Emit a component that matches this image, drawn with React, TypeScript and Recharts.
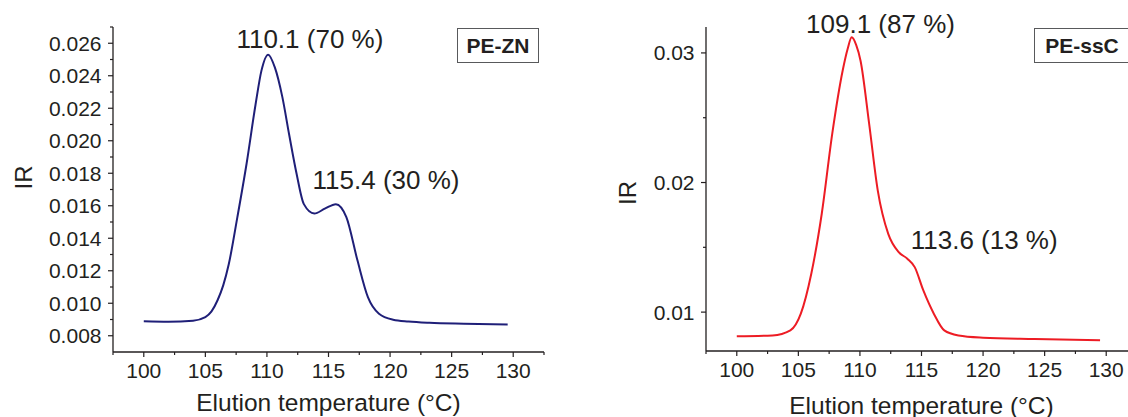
import React from 'react';
import { Label, Line, LineChart, ReferenceDot, XAxis, YAxis } from 'recharts';

const INK = '#231f20';
const FONT = '"Liberation Sans", Arial, sans-serif';

// PE-ZN trace (elution temperature, IR signal)
const znTemp = [100, 102, 104, 105, 105.5, 106, 106.45, 106.9, 107.6, 108.35, 109.07, 109.55, 110.1, 110.65, 111.25, 111.8, 112.4, 113.0, 113.85, 114.7, 115.6, 116.45, 117.35, 118.2, 119.1, 120.25, 121.5, 123.2, 126, 129.55];
const znIR = [0.00889, 0.00886, 0.00893, 0.00915, 0.0095, 0.0102, 0.0111, 0.0124, 0.0153, 0.0186, 0.0222, 0.0243, 0.0253, 0.0245, 0.0227, 0.0204, 0.018, 0.0161, 0.01552, 0.01582, 0.0161, 0.0153, 0.01264, 0.01038, 0.00936, 0.00899, 0.00888, 0.0088, 0.00874, 0.00869];

// PE-ssC trace
const sscTemp = [100, 102.9, 104.35, 105.2, 106.05, 106.9, 107.75, 108.6, 109.0, 109.33, 109.7, 110.05, 110.75, 111.45, 112.3, 113.15, 113.85, 114.45, 115.15, 116.0, 116.85, 118.0, 120.0, 124.2, 129.5];
const sscIR = [0.00813, 0.0082, 0.00859, 0.00988, 0.01296, 0.01759, 0.02375, 0.02864, 0.0303, 0.0312, 0.0306, 0.0294, 0.02453, 0.01938, 0.01604, 0.01463, 0.01412, 0.01347, 0.01167, 0.00988, 0.00859, 0.0082, 0.00803, 0.00792, 0.00782];

const xTicks = [97.5, 100, 102.5, 105, 107.5, 110, 112.5, 115, 117.5, 120, 122.5, 125, 127.5, 130, 132.5];
const znYTicks = [0.008, 0.009, 0.01, 0.011, 0.012, 0.013, 0.014, 0.015, 0.016, 0.017, 0.018, 0.019, 0.02, 0.021, 0.022, 0.023, 0.024, 0.025, 0.026, 0.027];
const sscYTicks = [0.01, 0.015, 0.02, 0.025, 0.03];

const TICK_SIZE = 5;
const TICK_MARGIN = 6;

const makeYTick = (isMajor: (v: number) => boolean, fmt: (v: number) => string) =>
  function YTick(props: any) {
    const { x, y, payload } = props;
    const ax = x + TICK_SIZE + TICK_MARGIN;
    const major = isMajor(payload.value);
    return (
      <g>
        <line x1={ax - (major ? 5 : 3)} x2={ax} y1={y} y2={y} stroke={INK} strokeWidth={1.2} />
        {major && (
          <text x={ax - 11.5} y={y} dy="0.355em" textAnchor="end" fontSize={21} fill={INK}>
            {fmt(payload.value)}
          </text>
        )}
      </g>
    );
  };

function XTick(props: any) {
  const { x, y, payload } = props;
  const ay = y - TICK_SIZE - TICK_MARGIN;
  const major = payload.value % 5 === 0;
  return (
    <g>
      <line x1={x} x2={x} y1={ay} y2={ay + (major ? 5 : 3)} stroke={INK} strokeWidth={1.2} />
      {major && (
        <text x={x} y={ay + 11} dy="0.71em" textAnchor="middle" fontSize={21} fill={INK}>
          {payload.value}
        </text>
      )}
    </g>
  );
}

const znYTick = makeYTick((v) => Math.round(v * 1000) % 2 === 0, (v) => v.toFixed(3));
const sscYTick = makeYTick((v) => Math.round(v * 1000) % 10 === 0, (v) => v.toFixed(2));

const irLabel = (cx: number, dy: number) =>
  function IRLabel(props: any) {
    const vb = props.viewBox || {};
    const cy = vb.y + vb.height / 2 + dy;
    return (
      <text x={cx} y={cy} dy="0.355em" textAnchor="middle" fontSize={24} fill={INK} transform={`rotate(-90, ${cx}, ${cy})`}>
        IR
      </text>
    );
  };

const boxStyle: React.CSSProperties = {
  position: 'absolute',
  top: 28,
  height: 35,
  boxSizing: 'border-box',
  border: '1.2px solid #58595b',
  background: '#fff',
  fontWeight: 'bold',
  fontSize: 21,
  color: INK,
  display: 'flex',
  alignItems: 'center',
  justifyContent: 'center',
  fontFamily: FONT,
};

const annot = { position: 'center' as const, fontSize: 26, fill: INK };

export default function App() {
  const znData = znTemp.map((t, i) => ({ t, ir: znIR[i] }));
  const sscData = sscTemp.map((t, i) => ({ t, ir: sscIR[i] }));

  return (
    <div
      style={{
        position: 'absolute',
        left: 0,
        top: 0,
        width: 1128,
        height: 417,
        overflow: 'hidden',
        background: '#fff',
        fontFamily: FONT,
      }}
    >
      <div style={{ position: 'absolute', left: 0, top: 0 }}>
        <LineChart width={560} height={417} data={znData} margin={{ top: 27, right: 16, bottom: 0, left: 0 }}>
          <XAxis
            dataKey="t"
            type="number"
            domain={[97.5, 132.5]}
            ticks={xTicks}
            interval={0}
            height={65}
            tickSize={TICK_SIZE}
            tickMargin={TICK_MARGIN}
            tickLine={false}
            axisLine={{ stroke: INK, strokeWidth: 1.3 }}
            tick={XTick}
          >
            <Label value="Elution temperature (°C)" position="insideBottom" offset={6} fontSize={24.5} fill={INK} />
          </XAxis>
          <YAxis
            type="number"
            domain={[0.007, 0.027]}
            ticks={znYTicks}
            interval={0}
            width={113}
            tickSize={TICK_SIZE}
            tickMargin={TICK_MARGIN}
            tickLine={false}
            axisLine={{ stroke: INK, strokeWidth: 1.3 }}
            tick={znYTick}
            label={irLabel(23, -12)}
          />
          <Line type="monotone" dataKey="ir" stroke="#1f1f78" strokeWidth={2} dot={false} isAnimationActive={false} />
          <ReferenceDot x={113.49} y={0.02626} r={0} fill="none" stroke="none" ifOverflow="visible"
            label={{ ...annot, value: '110.1 (70 %)' }} />
          <ReferenceDot x={119.67} y={0.0176} r={0} fill="none" stroke="none" ifOverflow="visible"
            label={{ ...annot, value: '115.4 (30 %)' }} />
        </LineChart>
      </div>
      <div style={{ ...boxStyle, left: 457, width: 82 }}>PE-ZN</div>

      <div style={{ position: 'absolute', left: 560, top: 0 }}>
        <LineChart width={580} height={417} data={sscData} margin={{ top: 27, right: 3, bottom: 0, left: 0 }}>
          <XAxis
            dataKey="t"
            type="number"
            domain={[97.5, 132.5]}
            ticks={xTicks}
            interval={0}
            height={66}
            tickSize={TICK_SIZE}
            tickMargin={TICK_MARGIN}
            tickLine={false}
            axisLine={{ stroke: INK, strokeWidth: 1.3 }}
            tick={XTick}
          >
            <Label value="Elution temperature (°C)" position="insideBottom" offset={3} fontSize={24.5} fill={INK} />
          </XAxis>
          <YAxis
            type="number"
            domain={[0.007, 0.032]}
            ticks={sscYTicks}
            interval={0}
            width={146}
            tickSize={TICK_SIZE}
            tickMargin={TICK_MARGIN}
            tickLine={false}
            axisLine={{ stroke: INK, strokeWidth: 1.3 }}
            tick={sscYTick}
            label={irLabel(67, 4)}
          />
          <Line type="monotone" dataKey="ir" stroke="#ed1c24" strokeWidth={2} dot={false} isAnimationActive={false} />
          <ReferenceDot x={111.67} y={0.03227} r={0} fill="none" stroke="none" ifOverflow="visible"
            label={{ ...annot, value: '109.1 (87 %)' }} />
          <ReferenceDot x={120.09} y={0.01561} r={0} fill="none" stroke="none" ifOverflow="visible"
            label={{ ...annot, value: '113.6 (13 %)' }} />
        </LineChart>
      </div>
      <div style={{ ...boxStyle, left: 1034, width: 96 }}>PE-ssC</div>
    </div>
  );
}
